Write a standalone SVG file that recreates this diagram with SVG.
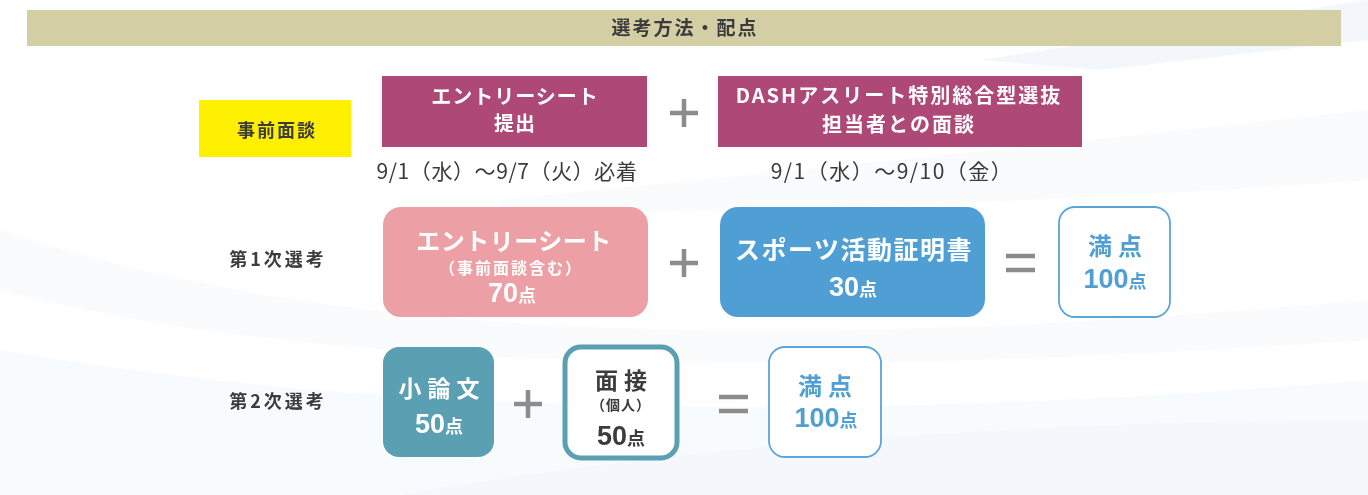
<svg xmlns="http://www.w3.org/2000/svg" width="1368" height="495" viewBox="0 0 1368 495">
<style>
text{font-family:"Noto Sans CJK JP","Noto Sans",sans-serif;text-anchor:middle}
.b{font-weight:700}
.w{fill:#ffffff}
.d{fill:#3c3c3c}
.bl{fill:#4f9fd5}
.date{font-size:21px;fill:#3a3a3a;font-weight:400}
.op{stroke:#8c8c8c;stroke-width:4.5;fill:none}
.lab{font-size:18px;font-weight:700;fill:#3c3c3c;letter-spacing:3px}
.num{font-family:"Liberation Sans",Arial,sans-serif;font-size:27px;font-weight:700}
.pt{font-family:"Noto Sans CJK JP",sans-serif;font-size:18px}
</style>
<rect width="1368" height="495" fill="#ffffff"/>
<g id="background" fill="#eef4fa" opacity="0.7">
<path d="M980 60 L1368 0 L1368 40 L1100 70 Z"/>
<path d="M500 200 C800 170 1100 140 1368 110 L1368 180 C1100 200 800 210 500 215 Z" opacity="0.5"/>
<path d="M0 230 C300 330 700 360 1368 300 L1368 340 C800 380 300 370 0 290 Z" opacity="0.5"/>
<path d="M0 350 C400 420 900 420 1368 380 L1368 495 L0 495 Z" opacity="0.6"/>
<path d="M400 495 C700 440 1100 420 1368 420 L1368 495 Z" opacity="0.7"/>
</g>
<g id="title">
<rect x="27" y="10" width="1314" height="36" fill="#d3cea3"/>
<text x="685" y="35" class="b d" font-size="19" letter-spacing="2">選考方法・配点</text>
</g>
<g id="pre-interview-label">
<rect x="199" y="100" width="152" height="57" fill="#ffef00"/>
<text x="277" y="137" class="b d" font-size="18" letter-spacing="2">事前面談</text>
</g>
<g id="entry-submit">
<rect x="382" y="76" width="265" height="71" fill="#ad4877"/>
<text x="515" y="104" class="b w" font-size="20" letter-spacing="1">エントリーシート</text>
<text x="515" y="131" class="b w" font-size="20" letter-spacing="1">提出</text>
<text x="507" y="179" class="date" letter-spacing="0.6">9/1（水）～9/7（火）必着</text>
</g>
<g id="dash-interview">
<rect x="718" y="76" width="364" height="71" fill="#ad4877"/>
<text x="899" y="103" class="b w" font-size="20" letter-spacing="2">DASHアスリート特別総合型選抜</text>
<text x="899" y="132" class="b w" font-size="20" letter-spacing="2">担当者との面談</text>
<text x="892" y="179" class="date" font-size="22" letter-spacing="1.5">9/1（水）～9/10（金）</text>
</g>
<g id="row1-label"><text x="278" y="266" class="lab">第1次選考</text></g>
<g id="entry-sheet">
<rect x="383" y="207" width="265" height="110" rx="18" fill="#eca0a5"/>
<text x="514" y="250" class="b w" font-size="24" letter-spacing="0.5">エントリーシート</text>
<text x="511" y="274" class="b w" font-size="16" letter-spacing="2">（事前面談含む）</text>
<text x="512" y="302" class="w num">70<tspan class="pt">点</tspan></text>
</g>
<g id="sports-cert">
<rect x="720" y="207" width="265" height="110" rx="18" fill="#4f9fd5"/>
<text x="854" y="259" class="b w" font-size="25" letter-spacing="1.5">スポーツ活動証明書</text>
<text x="853" y="296" class="w num">30<tspan class="pt">点</tspan></text>
</g>
<g id="total1">
<rect x="1059" y="207" width="111" height="110" rx="16" fill="#ffffff" stroke="#5aa5da" stroke-width="1.8"/>
<text x="1118" y="255" class="b bl" font-size="24" letter-spacing="6">満点</text>
<text x="1115" y="288" class="bl num">100<tspan class="pt">点</tspan></text>
</g>
<g id="row2-label"><text x="278" y="408" class="lab">第2次選考</text></g>
<g id="essay">
<rect x="383" y="347" width="111" height="110" rx="16" fill="#5b9fb2"/>
<text x="442" y="397" class="b w" font-size="23" letter-spacing="6">小論文</text>
<text x="439" y="433" class="w num">50<tspan class="pt">点</tspan></text>
</g>
<g id="interview">
<rect x="565" y="347" width="112" height="111" rx="16" fill="#ffffff" stroke="#5b9fb2" stroke-width="5"/>
<text x="624" y="389" class="b d" font-size="23" letter-spacing="6">面接</text>
<text x="621" y="410" class="b d" font-size="14" letter-spacing="1">（個人）</text>
<text x="621" y="445" class="d num">50<tspan class="pt">点</tspan></text>
</g>
<g id="total2">
<rect x="769" y="347" width="112" height="110" rx="16" fill="#ffffff" stroke="#5aa5da" stroke-width="1.8"/>
<text x="828" y="395" class="b bl" font-size="24" letter-spacing="6">満点</text>
<text x="826" y="427" class="bl num">100<tspan class="pt">点</tspan></text>
</g>
<g id="connectors">
<path class="op" d="M670 113 H698 M684 99 V127"/>
<path class="op" d="M670 263 H698 M684 249 V277"/>
<path class="op" d="M1006 256 H1035 M1006 270 H1035"/>
<path class="op" d="M514 404 H542 M528 390 V418"/>
<path class="op" d="M719 397 H748 M719 411 H748"/>
</g>
</svg>
